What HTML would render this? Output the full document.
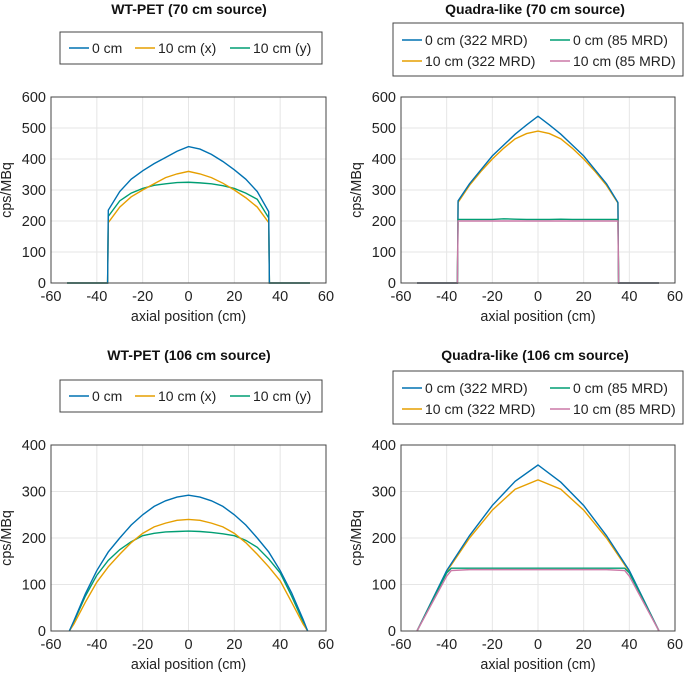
<!DOCTYPE html>
<html><head><meta charset="utf-8"><style>
body{margin:0;background:#fff}
svg{display:block;font-family:"Liberation Sans",Arial,sans-serif}
.tk{font-size:14.5px;fill:#222}
.at{font-size:14.3px;fill:#222}
.ttl{font-size:14px;font-weight:bold;fill:#111}
.lg{font-size:14px;fill:#222}
</style></head><body>
<svg id="c" width="685" height="676"></svg>
<script>
const C={b:"#0072B2",o:"#E69F00",g:"#009E73",p:"#CC79A7"};
// Panel A: WT-PET 70 cm
const aX=[-53,-35.3,-35,-30,-25,-20,-15,-10,-5,0,5,10,15,20,25,30,35,35.3,53];
const aBlue=[0,0,235,295,335,362,385,405,425,440,432,415,392,365,335,295,230,0,0];
const aOrange=[0,0,195,245,278,300,320,340,352,360,352,340,322,300,275,245,195,0,0];
const aGreen=[0,0,215,265,290,305,315,320,324,325,323,320,314,305,290,270,210,0,0];
// Panel B: Quadra-like 70 cm
const bX=aX;
const bBlue=[0,0,265,320,365,410,445,480,510,538,510,480,445,410,365,320,260,0,0];
const bOrange=[0,0,260,315,360,400,435,465,482,490,482,465,435,400,360,315,258,0,0];
const bGreen=[0,0,205,205,205,205,207,206,205,205,205,206,205,205,205,205,205,0,0];
const bPink=[0,0,200,200,200,200,200,200,200,200,200,200,200,200,200,200,200,0,0];
// Panel C: WT-PET 106 cm
const cX=[-52,-50,-45,-40,-35,-30,-25,-20,-15,-10,-5,0,5,10,15,20,25,30,35,40,45,50,52];
const cBlue=[0,22,80,130,170,200,228,250,268,280,288,292,288,280,268,250,228,200,170,130,82,25,0];
const cOrange=[0,15,62,105,138,165,190,210,224,232,238,240,238,232,224,210,190,165,138,108,62,15,0];
const cGreen=[0,20,75,120,152,175,192,205,210,213,214,215,214,212,209,205,195,180,155,125,75,20,0];
// Panel D: Quadra-like 106 cm
const dX=[-53,-40,-38,-30,-20,-10,0,10,20,30,38,40,53];
const dBlue=[0,130,145,205,270,322,357,320,270,205,145,130,0];
const dOrange=[0,128,142,200,260,305,325,305,260,200,142,128,0];
const dGreen=[0,125,135,135,135,135,135,135,135,135,135,125,0];
const dPink=[0,118,130,132,132,132,132,132,132,132,130,118,0];
const xTicks=[-60,-40,-20,0,20,40,60];
const yTicksTop=[0,100,200,300,400,500,600];
const yTicksBot=[0,100,200,300,400];

const svg=document.getElementById('c');const NS="http://www.w3.org/2000/svg";
function mk(t,a,p){const e=document.createElementNS(NS,t);for(const k in a)e.setAttribute(k,a[k]);(p||svg).appendChild(e);return e;}
function panel(o){
  const g=mk('g',{});
  
  
  const sx=v=>o.l+(v+60)/120*(o.r-o.l), sy=v=>o.b-v/o.ymax*(o.b-o.t);
  xTicks.forEach(v=>{const l=mk('line',{x1:sx(v),x2:sx(v),y1:o.t,y2:o.b,stroke:"#e6e6e6"},g);
    const t=mk('text',{x:sx(v),y:o.b+18,'text-anchor':'middle',class:'tk'},g);t.textContent=v;});
  o.yt.forEach(v=>{const l=mk('line',{x1:o.l,x2:o.r,y1:sy(v),y2:sy(v),stroke:"#e6e6e6"},g);
    const t=mk('text',{x:o.l-5,y:sy(v)+5,'text-anchor':'end',class:'tk'},g);t.textContent=v;});
  o.series.forEach(s=>{const p=mk('polyline',{points:o.x.map((v,i)=>sx(v)+","+sy(s.y[i])).join(" "),fill:"none",stroke:s.c,'stroke-width':1.4},g);});
  const fr=mk('rect',{x:o.l,y:o.t,width:o.r-o.l,height:o.b-o.t,fill:"none",stroke:"#444"},g);
  const xl=mk('text',{x:(o.l+o.r)/2,y:o.b+38,'text-anchor':'middle',class:'at'},g);xl.textContent="axial position (cm)";
  const cy=(o.t+o.b)/2;const yl=mk('text',{x:o.l-40,y:cy,'text-anchor':'middle',class:'at',transform:`rotate(-90 ${o.l-40} ${cy})`},g);yl.textContent="cps/MBq";
  const tt=mk('text',{x:o.tx,y:o.ty,'text-anchor':'middle',class:'ttl'},g);tt.textContent=o.title;
  const lb=mk('rect',{x:o.lg[0],y:o.lg[1],width:o.lg[2],height:o.lg[3],fill:"#fff",stroke:"#444"},g);
  o.items.forEach(it=>{const l=mk('line',{x1:it[0],x2:it[0]+20,y1:it[1]-5,y2:it[1]-5,stroke:it[3],'stroke-width':1.6},g);
    const t=mk('text',{x:it[0]+23,y:it[1],class:'lg'},g);t.textContent=it[2];});
}
panel({name:'panel-wtpet-70',l:51,r:326,t:97,b:283,ymax:600,yt:yTicksTop,x:aX,series:[{y:aGreen,c:C.g},{y:aOrange,c:C.o},{y:aBlue,c:C.b}],
 title:"WT-PET (70 cm source)",tx:189,ty:14,lg:[60,32,262,32],items:[[69,53,"0 cm",C.b],[135,53,"10 cm (x)",C.o],[230,53,"10 cm (y)",C.g]]});
panel({name:'panel-quadra-70',l:401,r:675,t:97,b:283,ymax:600,yt:yTicksTop,x:bX,series:[{y:bOrange,c:C.o},{y:bBlue,c:C.b},{y:bGreen,c:C.g},{y:bPink,c:C.p}],
 title:"Quadra-like (70 cm source)",tx:535,ty:14,lg:[393,23,290,53],items:[[402,45,"0 cm (322 MRD)",C.b],[550,45,"0 cm (85 MRD)",C.g],[402,66,"10 cm (322 MRD)",C.o],[550,66,"10 cm (85 MRD)",C.p]]});
panel({name:'panel-wtpet-106',l:51,r:326,t:445,b:631,ymax:400,yt:yTicksBot,x:cX,series:[{y:cGreen,c:C.g},{y:cOrange,c:C.o},{y:cBlue,c:C.b}],
 title:"WT-PET (106 cm source)",tx:189,ty:360,lg:[60,380,262,32],items:[[69,401,"0 cm",C.b],[135,401,"10 cm (x)",C.o],[230,401,"10 cm (y)",C.g]]});
panel({name:'panel-quadra-106',l:401,r:675,t:445,b:631,ymax:400,yt:yTicksBot,x:dX,series:[{y:dOrange,c:C.o},{y:dBlue,c:C.b},{y:dGreen,c:C.g},{y:dPink,c:C.p}],
 title:"Quadra-like (106 cm source)",tx:535,ty:360,lg:[393,371,290,53],items:[[402,393,"0 cm (322 MRD)",C.b],[550,393,"0 cm (85 MRD)",C.g],[402,414,"10 cm (322 MRD)",C.o],[550,414,"10 cm (85 MRD)",C.p]]});
</script>
</body></html>
